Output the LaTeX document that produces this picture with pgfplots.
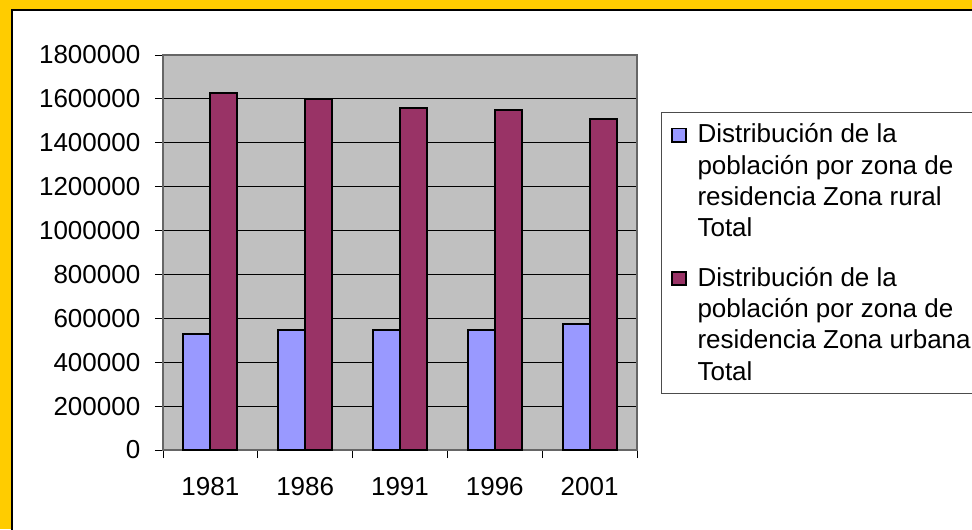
\documentclass[border=0pt]{standalone}
\usepackage{fontspec}
\setmainfont{Liberation Sans}
\usepackage{pgfplots}
\pgfplotsset{compat=1.18}
\definecolor{ruralc}{HTML}{9999FF}
\definecolor{urbanc}{HTML}{993366}
\definecolor{plotbg}{HTML}{C0C0C0}
\definecolor{frameY}{HTML}{FFCC00}
\pgfplotsset{sqlegend/.style={legend image code/.code={%
  \draw[##1,draw=black,line width=1.1pt] (0pt,71.1pt) rectangle (10.5pt,81.1pt);}}}
\begin{document}
\begin{tikzpicture}[x=1pt,y=1pt]
\useasboundingbox (0,0) rectangle (729,396.75);
\fill[frameY] (0,0) rectangle (729,396.75);
\begin{scope}
\clip (0,0) rectangle (729,396.75);
\filldraw[fill=white,draw=black,line width=0.8pt] (9,-10) rectangle (740,389.25);
\end{scope}
\begin{axis}[
 at={(122.25pt,59.25pt)}, anchor=south west,
 scale only axis, width=355.5pt, height=296.25pt,
 ybar=0pt, bar width=20.25pt,
 xmin=-0.5, xmax=4.5, ymin=0, ymax=1800000,
 xtick={0,...,4}, xticklabels={1981,1986,1991,1996,2001},
 minor xtick={-0.5,0.5,...,4.5},
 major x tick style={draw=none},
 ytick={0,200000,...,1800000},
 scaled y ticks=false,
 yticklabel style={/pgf/number format/.cd,fixed,1000 sep={},/tikz/.cd,xshift=-7.5pt},
 xticklabel style={yshift=-11pt},
 /pgf/number format/assume math mode=true,
 tick align=outside, tick pos=left,
 major tick length=6pt, minor tick length=6pt,
 tick style={black, line width=0.6pt},
 ymajorgrids, grid style={black, line width=0.6pt},
 axis background/.style={fill=plotbg},
 axis line style={draw=black!60, line width=0.8pt},
 tick label style={font=\fontsize{19.5}{23.5}\selectfont},
 legend style={at={(1.0506,0.8557)}, anchor=north west,
   draw=black!70, line width=0.6pt, fill=white,
   font=\fontsize{19.5}{23.5}\selectfont,
   inner xsep=7.5pt, inner ysep=8.5pt,
   nodes={inner sep=0pt},
   column sep=8pt, row sep=21pt,
   cells={anchor=base west, align=left}},
]
\addplot[sqlegend, fill=ruralc, draw=black, line width=1.4pt] coordinates {(0,529000) (1,547000) (2,547000) (3,547000) (4,574000)};
\addlegendentry{Distribución de la\\población por zona de\\residencia Zona rural\\Total}
\addplot[sqlegend, fill=urbanc, draw=black, line width=1.4pt] coordinates {(0,1627000) (1,1597000) (2,1558000) (3,1549000) (4,1508000)};
\addlegendentry{Distribución de la\\población por zona de\\residencia Zona urbana\\Total}
\end{axis}
\end{tikzpicture}
\end{document}
